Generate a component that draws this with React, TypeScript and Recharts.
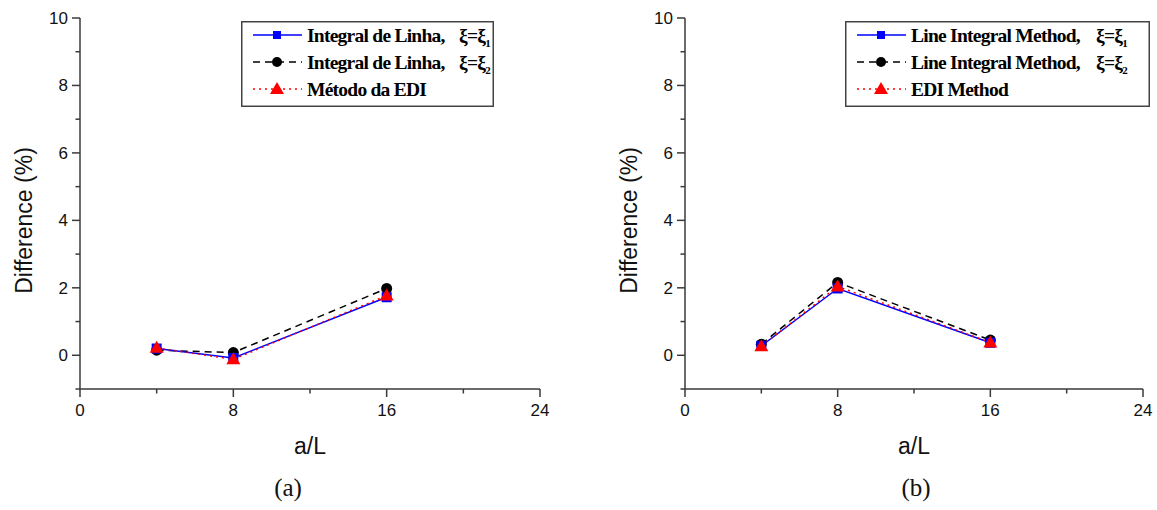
import React from 'react';
import { LineChart, Line, XAxis, YAxis } from 'recharts';

const aOverL = [4, 8, 16];

// panel (a)
const aIntegral1 = [0.2, -0.08, 1.72];
const aIntegral2 = [0.15, 0.08, 1.98];
const aEdi = [0.22, -0.12, 1.77];

// panel (b)
const bIntegral1 = [0.28, 1.98, 0.37];
const bIntegral2 = [0.33, 2.16, 0.45];
const bEdi = [0.27, 2.04, 0.38];

const xTicks = [0, 4, 8, 12, 16, 20, 24];
const yTicks = [-1, 0, 1, 2, 3, 4, 5, 6, 7, 8, 9, 10];

const legendA = ['Integral de Linha,', 'Integral de Linha,', 'Método da EDI'];
const legendB = ['Line Integral Method,', 'Line Integral Method,', 'EDI Method'];

const AXIS = '#3a3a3a';
const SANS = '"Liberation Sans", Arial, sans-serif';
const SERIF = '"Liberation Serif", "Times New Roman", serif';

const MAJOR = 8;
const MINOR = 4.5;
const X_MARGIN = 7;
const Y_MARGIN = 4;

const buildRows = (s1: number[], s2: number[], s3: number[]) =>
  aOverL.map((x, i) => ({ x, s1: s1[i], s2: s2[i], s3: s3[i] }));

const Square = (props: any) => {
  const { cx, cy } = props;
  if (cx == null || cy == null) return null;
  return <rect x={cx - 5} y={cy - 5} width={10} height={10} fill="#0000ff" />;
};
const Circle = (props: any) => {
  const { cx, cy } = props;
  if (cx == null || cy == null) return null;
  return <circle cx={cx} cy={cy} r={5.5} fill="#000" />;
};
const Triangle = (props: any) => {
  const { cx, cy } = props;
  if (cx == null || cy == null) return null;
  return <polygon points={`${cx},${cy - 7} ${cx - 7},${cy + 5} ${cx + 7},${cy + 5}`} fill="#ff0000" />;
};

// major ticks are labelled and longer, minor ones short and blank
const XTick = (props: any) => {
  const { x, y, payload } = props;
  const v = payload.value;
  const major = v % 8 === 0;
  const axisY = y - MAJOR - X_MARGIN;
  return (
    <g>
      <line x1={x} x2={x} y1={axisY} y2={axisY + (major ? MAJOR : MINOR)} stroke={AXIS} strokeWidth={1.5} />
      {major && (
        <text x={x} y={y} dy="0.71em" textAnchor="middle" fontFamily={SANS} fontSize={17} fill="#111">{v}</text>
      )}
    </g>
  );
};

const YTick = (props: any) => {
  const { x, y, payload } = props;
  const v = payload.value;
  const major = v >= 0 && v % 2 === 0;
  const axisX = x + MAJOR + Y_MARGIN;
  return (
    <g>
      <line x1={axisX - (major ? MAJOR : MINOR)} x2={axisX} y1={y} y2={y} stroke={AXIS} strokeWidth={1.5} />
      {major && (
        <text x={x} y={y} dy="0.355em" textAnchor="end" fontFamily={SANS} fontSize={17} fill="#111">{v}</text>
      )}
    </g>
  );
};

// legend box drawn on top of the plot, like the original figure
const LegendBox = ({ labels, width, xiAt, left }: { labels: string[]; width: number; xiAt: number; left: number }) => (
  <svg width={width} height={86} style={{ position: 'absolute', left, top: 21, display: 'block' }}>
    <rect x={0.75} y={0.75} width={width - 1.5} height={84.5} fill="#fff" stroke="#444" strokeWidth={1.5} />
    <line x1={12} x2={61} y1={14} y2={14} stroke="#0000ff" strokeWidth={1.5} />
    <rect x={32} y={10} width={8} height={8} fill="#0000ff" />
    <line x1={12} x2={61} y1={41} y2={41} stroke="#000" strokeWidth={1.5} strokeDasharray="7 5" />
    <circle cx={36} cy={41} r={5} fill="#000" />
    <line x1={12} x2={61} y1={68} y2={68} stroke="#ff0000" strokeWidth={1.5} strokeDasharray="2 4" />
    <polygon points="36,61 29,73 43,73" fill="#ff0000" />
    <g fontFamily={SERIF} fontWeight="bold" fontSize={19.5} fill="#000" letterSpacing={-0.75}>
      <text x={66} y={21}>{labels[0]}</text>
      <text x={66} y={48}>{labels[1]}</text>
      <text x={66} y={75}>{labels[2]}</text>
      <text x={xiAt} y={21}>ξ=ξ<tspan fontSize={11} dy={5}>1</tspan></text>
      <text x={xiAt} y={48}>ξ=ξ<tspan fontSize={11} dy={5}>2</tspan></text>
    </g>
  </svg>
);

const YTitle = (props: any) => {
  const vb = props.viewBox;
  const cx = vb.x + vb.width - 56;
  const cy = vb.y + vb.height / 2 + 17;
  return (
    <text x={cx} y={cy} transform={`rotate(-90, ${cx}, ${cy})`} textAnchor="middle" dominantBaseline="central"
      fontFamily={SANS} fontSize={23} fill="#111">
      Difference (%)
    </text>
  );
};

const XTitle = (props: any) => {
  const vb = props.viewBox;
  return (
    <text x={vb.x + vb.width / 2} y={vb.y + 65} textAnchor="middle" fontFamily={SANS} fontSize={23} fill="#111">
      a/L
    </text>
  );
};

type PanelProps = {
  rows: ReturnType<typeof buildRows>;
  width: number;
  marginLeft: number;
  marginRight: number;
};

const Panel = ({ rows, width, marginLeft, marginRight }: PanelProps) => (
  <LineChart width={width} height={470} data={rows}
    margin={{ top: 18, right: marginRight, bottom: 51, left: marginLeft }}>
    <XAxis dataKey="x" type="number" domain={[0, 24]} ticks={xTicks}
      axisLine={{ stroke: AXIS, strokeWidth: 1.5 }} tickLine={false}
      tickSize={MAJOR} tickMargin={X_MARGIN} height={30} interval={0}
      tick={<XTick />} label={<XTitle />} />
    <YAxis type="number" domain={[-1, 10]} ticks={yTicks} width={56} interval={0}
      axisLine={{ stroke: AXIS, strokeWidth: 1.5 }} tickLine={false}
      tickSize={MAJOR} tickMargin={Y_MARGIN}
      tick={<YTick />} label={<YTitle />} />
    <Line type="linear" dataKey="s2" stroke="#000" strokeWidth={1.5} strokeDasharray="7 5"
      dot={<Circle />} activeDot={false} isAnimationActive={false} />
    <Line type="linear" dataKey="s1" stroke="#0000ff" strokeWidth={1.5}
      dot={<Square />} activeDot={false} isAnimationActive={false} />
    <Line type="linear" dataKey="s3" stroke="#ff0000" strokeWidth={1.5} strokeDasharray="2 4"
      dot={<Triangle />} activeDot={false} isAnimationActive={false} />
  </LineChart>
);

const caption: React.CSSProperties = {
  position: 'absolute', top: 474, fontFamily: SERIF, fontSize: 25, color: '#111', width: 60, textAlign: 'center',
};

export default function App() {
  return (
    <div style={{ position: 'absolute', left: 0, top: 0, width: 1157, height: 510, background: '#fff' }}>
      <div style={{ position: 'absolute', left: 0, top: 0 }}>
        <Panel rows={buildRows(aIntegral1, aIntegral2, aEdi)} width={578} marginLeft={24} marginRight={38} />
      </div>
      <div style={{ position: 'absolute', left: 578, top: 0 }}>
        <Panel rows={buildRows(bIntegral1, bIntegral2, bEdi)} width={579} marginLeft={51} marginRight={14} />
      </div>
      <LegendBox labels={legendA} width={253} xiAt={218} left={241} />
      <LegendBox labels={legendB} width={305} xiAt={251} left={845} />
      <div style={{ ...caption, left: 258 }}>(a)</div>
      <div style={{ ...caption, left: 886 }}>(b)</div>
    </div>
  );
}
